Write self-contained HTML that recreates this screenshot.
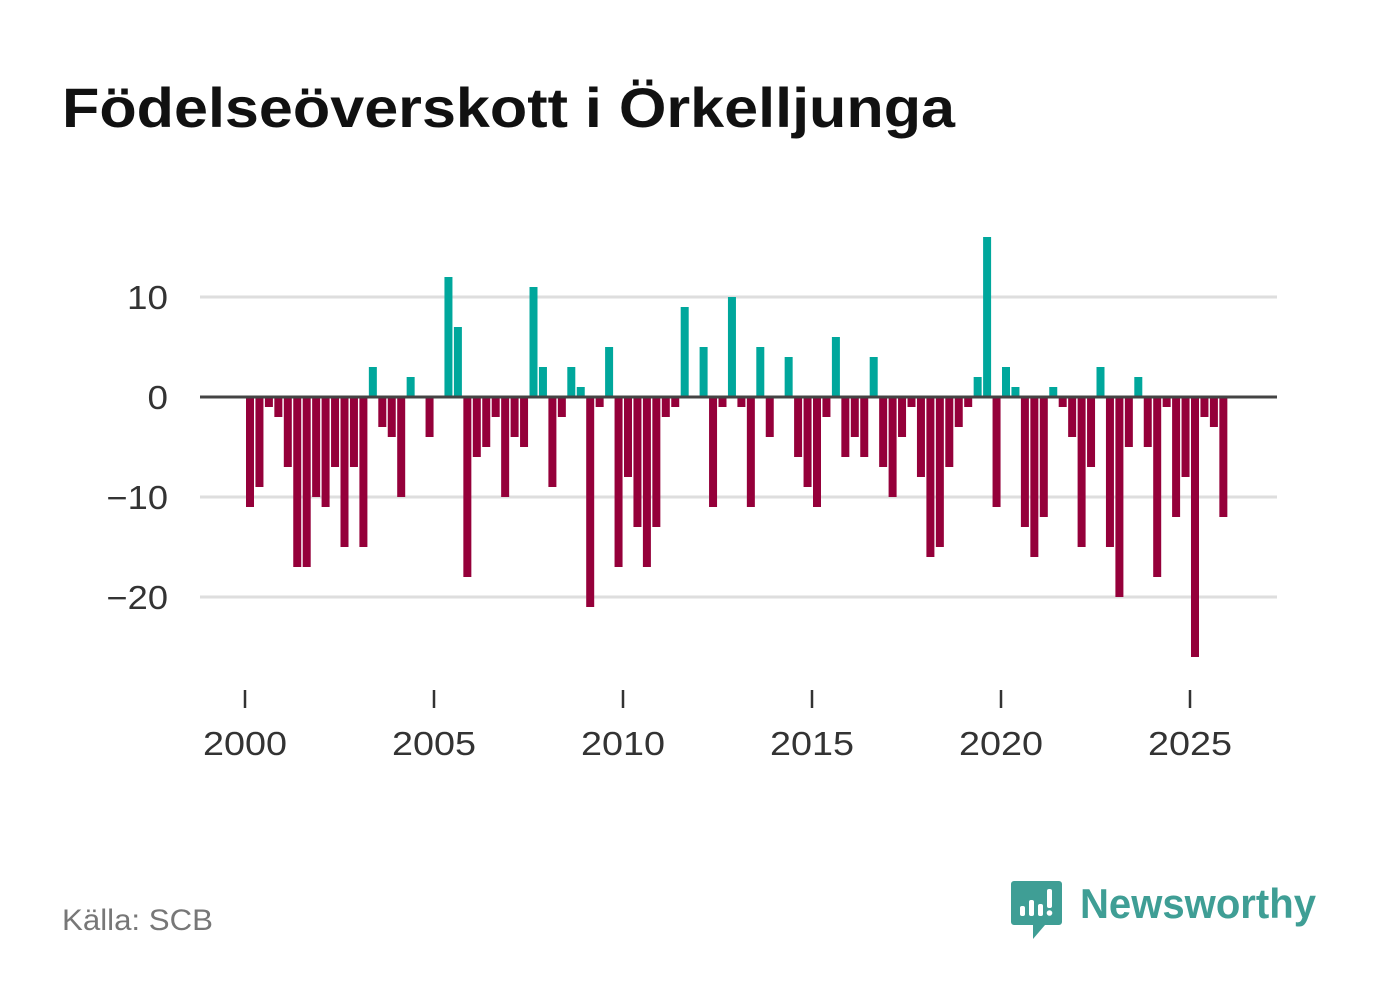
<!DOCTYPE html>
<html><head><meta charset="utf-8"><style>
body{margin:0;background:#fff;width:1382px;height:999px;overflow:hidden;font-family:"Liberation Sans","DejaVu Sans",sans-serif}
</style></head><body>
<svg width="1382" height="999" xmlns="http://www.w3.org/2000/svg">
<text x="62" y="127" font-size="56" font-weight="bold" fill="#111" textLength="893" lengthAdjust="spacingAndGlyphs">Födelseöverskott i Örkelljunga</text>
<g id="grid"></g><g id="bars"></g><g id="axes"></g>
<text x="62" y="930" font-size="30" fill="#777" textLength="151" lengthAdjust="spacingAndGlyphs">Källa: SCB</text>
<g>
<path d="M1014,881 h45 a3,3 0 0 1 3,3 v38 a3,3 0 0 1 -3,3 h-14 l-12,14 v-14 h-19 a3,3 0 0 1 -3,-3 v-38 a3,3 0 0 1 3,-3z" fill="#3f9e95"/>
<rect x="1020" y="906" width="5" height="10" rx="2" fill="#fff"/><rect x="1029" y="900" width="5" height="16" rx="2" fill="#fff"/><rect x="1038" y="904" width="5" height="12" rx="2" fill="#fff"/><rect x="1047" y="889" width="5" height="19" rx="2" fill="#fff"/><circle cx="1049.5" cy="913" r="2.8" fill="#fff"/>
<text x="1080" y="918" font-size="42" font-weight="bold" fill="#3f9e95" textLength="236" lengthAdjust="spacingAndGlyphs">Newsworthy</text>
</g>
</svg>
<script>
const categories = [];
for (let y = 2000; y <= 2025; y++) for (let q = 1; q <= 4; q++) categories.push(y + "Q" + q);
const values = [-11,-9,-1,-2,-7,-17,-17,-10,-11,-7,-15,-7,-15,3,-3,-4,-10,2,0,-4,0,12,7,-18,-6,-5,-2,-10,-4,-5,11,3,-9,-2,3,1,-21,-1,5,-17,-8,-13,-17,-13,-2,-1,9,0,5,-11,-1,10,-1,-11,5,-4,0,4,-6,-9,-11,-2,6,-6,-4,-6,4,-7,-10,-4,-1,-8,-16,-15,-7,-3,-1,2,16,-11,3,1,-13,-16,-12,1,-1,-4,-15,-7,3,-15,-20,-5,2,-5,-18,-1,-12,-8,-26,-2,-3,-12];
const yTicks = [10, 0, -10, -20];
const yTickLabels = ["10", "0", "−10", "−20"];
const xTicks = [2000, 2005, 2010, 2015, 2020, 2025];
const NS = "http://www.w3.org/2000/svg";
const yScale = v => 397 - v * 10;
const xYear = t => 245 + (t - 2000) * 37.8;
const xBar = i => xYear(2000 + i * 0.25);
const grid = document.getElementById("grid"), bars = document.getElementById("bars"), axes = document.getElementById("axes");
function mk(tag, attrs, parent){const e=document.createElementNS(NS,tag);for(const k in attrs)e.setAttribute(k,attrs[k]);parent.appendChild(e);return e;}
yTicks.forEach((t, i) => {
  if (t !== 0) {
    const l = mk("line", {x1:200, x2:1277, y1:yScale(t), y2:yScale(t), stroke:"#dedede", "stroke-width":3}, grid);
    
    
  }
  const lab = yTickLabels[i];
  const tx = mk("text", {x:168, y:yScale(t)+12, "font-size":33, fill:"#333", "text-anchor":"end", textLength: lab.length * 20.5, lengthAdjust:"spacingAndGlyphs"}, axes);
  tx.textContent = lab;
  
  
});
values.forEach((v, i) => {
  const x = xBar(i) + 1;
  const r = mk("rect", {x:x, width:8, y:Math.min(yScale(v), yScale(0)), height:Math.abs(v) * 10, fill: v >= 0 ? "#00a79c" : "#95003a"}, bars);
  
  
});
const zl = mk("line", {x1:200, x2:1277, y1:397, y2:397, stroke:"#444", "stroke-width":3}, axes);


xTicks.forEach(t => {
  const tk = mk("line", {x1:xYear(t), x2:xYear(t), y1:690, y2:708, stroke:"#333", "stroke-width":2.5}, axes);
  
  
  const tx = mk("text", {x:xYear(t), y:755, "font-size":33, fill:"#333", "text-anchor":"middle", textLength:84, lengthAdjust:"spacingAndGlyphs"}, axes);
  tx.textContent = t;
  
  
});
</script>
</body></html>
